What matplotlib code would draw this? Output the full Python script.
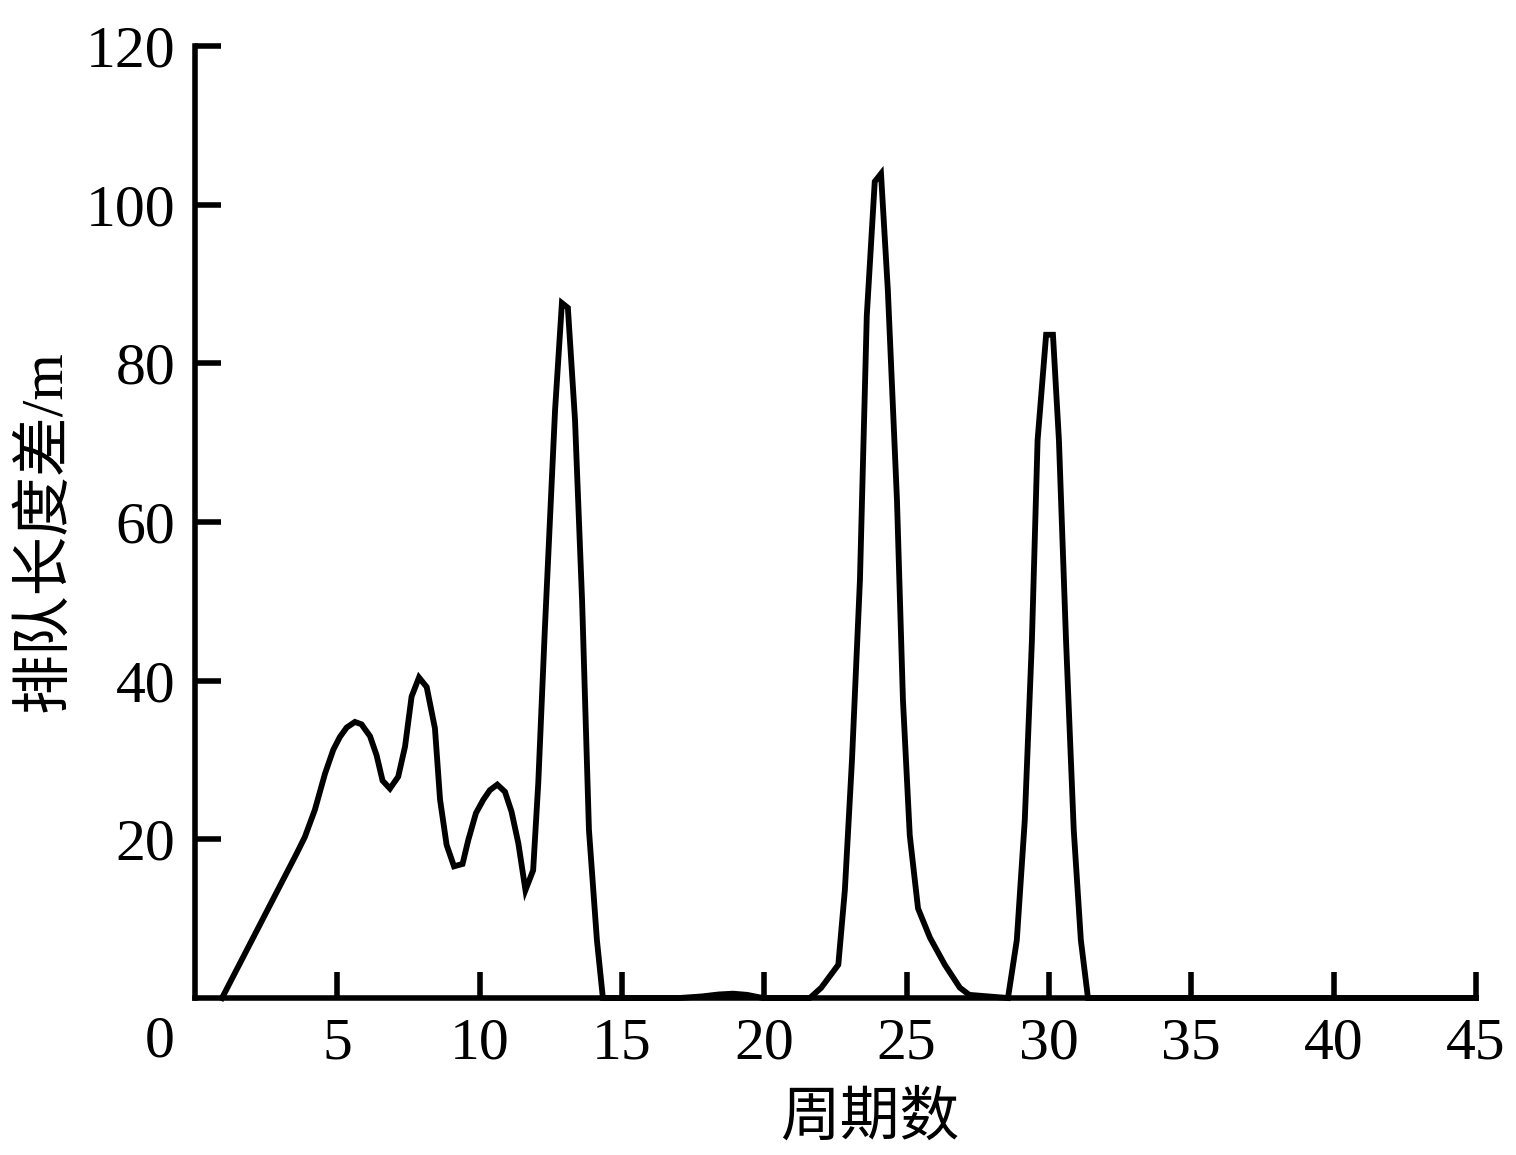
import matplotlib.pyplot as plt
import matplotlib.transforms as mtransforms

# cycle number vs queue length difference (m)
cycles = [0.95, 3.57, 3.86, 4.21, 4.57, 4.86, 5.09, 5.33, 5.62, 5.85, 6.15, 6.38,
          6.59, 6.85, 7.14, 7.38, 7.61, 7.87, 8.14, 8.43, 8.61, 8.84, 9.10, 9.40,
          9.60, 9.87, 10.13, 10.36, 10.62, 10.89, 11.12, 11.36, 11.61, 11.88, 12.06,
          12.29, 12.65, 12.89, 13.10, 13.35, 13.60, 13.84, 14.12, 14.33,
          17.0, 17.8, 18.4, 18.9, 19.4, 19.95, 21.6,
          22.0, 22.6, 22.83, 23.08, 23.36, 23.6, 23.88, 24.1, 24.34, 24.66, 24.87,
          25.11, 25.4, 25.82, 26.34, 26.87, 27.2, 28.56,
          28.87, 29.15, 29.4, 29.6, 29.9, 30.14, 30.35, 30.6, 30.87, 31.12, 31.37, 45.0]
queue_diff = [0.0, 18.2, 20.3, 23.7, 28.3, 31.3, 32.9, 34.1, 34.8, 34.5, 33.0, 30.6,
              27.4, 26.4, 27.9, 31.7, 38.0, 40.4, 39.2, 34.0, 25.0, 19.3, 16.6, 16.9,
              19.9, 23.3, 25.0, 26.2, 26.9, 26.0, 23.5, 19.5, 13.6, 16.1, 27.1,
              46.4, 74.1, 87.6, 87.0, 72.9, 50.0, 21.2, 7.3, 0.0,
              0.0, 0.2, 0.45, 0.55, 0.4, 0.0, 0.0,
              1.3, 4.2, 13.6, 30.0, 52.7, 86.0, 102.9, 103.9, 89.2, 62.8, 37.6,
              20.5, 11.3, 7.6, 4.2, 1.3, 0.4, 0.0,
              7.3, 22.4, 45.0, 70.3, 83.6, 83.6, 70.3, 45.0, 21.2, 7.3, 0.0, 0.0]

x_ticks = [5, 10, 15, 20, 25, 30, 35, 40, 45]
y_ticks = [20, 40, 60, 80, 100, 120]

num_font = 'Liberation Serif'
cjk_font = ['Liberation Serif', 'Noto Sans CJK SC']

fig = plt.figure(figsize=(15.16, 11.55), dpi=100)
ax = fig.add_axes([0.1286, 0.1359, 0.845, 0.8243])

ax.plot(cycles, queue_diff, color='black', linewidth=4.2, solid_joinstyle='miter',
        clip_on=False)

ax.set_xlim(0, 45)
ax.set_ylim(0, 120)
ax.set_xticks(x_ticks)
ax.set_yticks(y_ticks)

for side in ['top', 'right']:
    ax.spines[side].set_visible(False)
for side in ['left', 'bottom']:
    ax.spines[side].set_linewidth(4.0)

ax.tick_params(direction='in', length=19, width=4.0, labelsize=43, pad=14)
for lab in ax.get_xticklabels() + ax.get_yticklabels():
    lab.set_fontfamily(num_font)

# shared origin label
trans = mtransforms.blended_transform_factory(ax.transData, ax.transAxes)
ax.text(-1.25, -0.0185, '0', transform=trans, fontsize=43, family=num_font,
        ha='center', va='top')

ax.set_xlabel('周期数', fontsize=43, family=cjk_font)
ax.set_ylabel('排队长度差/m', fontsize=43, family=cjk_font)
ax.xaxis.set_label_coords(0.527, -0.128)
ax.yaxis.set_label_coords(-0.117, 0.49)
ax.xaxis.label.set_va('center')
ax.yaxis.label.set_va('center')

fig.savefig('out.png', dpi=100)
